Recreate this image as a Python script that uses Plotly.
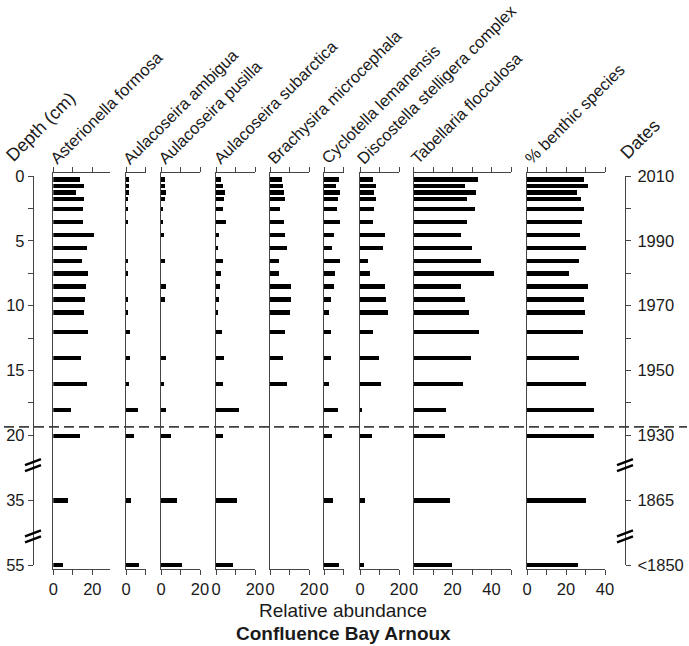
import numpy as np
import plotly.graph_objects as go

W, H = 689, 646
FONT = "Liberation Sans, Arial, sans-serif"
INK = "#1a1a1a"
AXIS = "#444444"

# sample depths (cm); axis is broken between 20-35 and 35-55
DEPTH_CM = [0.25, 0.75, 1.25, 1.75, 2.5, 3.5, 4.5, 5.5, 6.5, 7.5,
            8.5, 9.5, 10.5, 12, 14, 16, 18, 20, 35, 55]
DEPTH_TICKS = [0, 5, 10, 15, 20, 35, 55]
DATE_LABELS = ["2010", "1990", "1970", "1950", "1930", "1865", "<1850"]
MINOR_DEPTHS = [2.5, 7.5, 12.5, 17.5]
BOUNDARY_CM = 19.35

SPECIES = ["Asterionella formosa", "Aulacoseira ambigua", "Aulacoseira pusilla",
           "Aulacoseira subarctica", "Brachysira microcephala", "Cyclotella lemanensis",
           "Discostella stelligera complex", "Tabellaria flocculosa", "% benthic species"]

asterionella = [13.7, 15.7, 11.6, 15.7, 15.4, 15.4, 20.9, 17.6, 14.9, 18.1,
                17.1, 16.6, 15.9, 18.1, 14.4, 17.6, 9.1, 13.7, 7.5, 5.3]
ambigua = [1.4, 1.5, 1.5, 0.9, 1.2, 1.2, 0, 0, 0.8, 1.2,
           0, 0.7, 0.7, 2.1, 2.1, 1.4, 6.0, 4.1, 2.4, 6.7]
pusilla = [1.9, 1.9, 2.4, 1.9, 1.2, 1.2, 1.4, 0, 1.9, 0,
           2.6, 1.9, 0, 0, 2.6, 1.4, 2.4, 5.3, 8.4, 10.6]
subarctica = [2.4, 3.4, 4.4, 4.1, 3.4, 5.0, 1.7, 1.2, 3.4, 2.4,
              1.9, 1.4, 1.2, 2.9, 4.1, 3.4, 11.7, 3.4, 10.8, 8.6]
brachysira = [6.3, 6.8, 7.4, 7.9, 5.1, 7.4, 7.9, 8.9, 4.6, 4.6,
              10.9, 10.9, 10.4, 7.9, 6.8, 8.9, 0, 0, 0, 0]
cyclotella = [7.5, 6.0, 8.0, 7.0, 6.5, 8.0, 5.0, 4.3, 8.0, 5.5,
              5.0, 3.4, 2.4, 3.4, 3.4, 2.4, 7.4, 3.9, 4.4, 7.7]
discostella = [6.7, 8.4, 7.4, 8.4, 7.0, 6.5, 12.8, 11.6, 3.9, 5.3,
               12.8, 13.3, 14.4, 6.5, 9.7, 10.6, 1.0, 6.3, 2.6, 1.9]
tabellaria = [32.6, 26.3, 31.6, 27.0, 31.3, 27.0, 24.3, 29.6, 34.4, 41.2,
              24.3, 26.3, 28.4, 33.5, 29.1, 25.3, 16.2, 15.7, 18.5, 19.6]
benthic = [29.2, 31.3, 25.5, 27.7, 29.1, 28.2, 27.2, 30.3, 26.8, 21.4,
           31.3, 29.2, 29.7, 28.7, 26.7, 30.3, 34.2, 34.2, 30.3, 26.0]

VALUES = [asterionella, ambigua, pusilla, subarctica, brachysira,
          cyclotella, discostella, tabellaria, benthic]
AXIS_MAX = [29, 10, 20, 20, 20, 10, 20, 50, 40]

# layout in pixels
PANEL_ZERO_PX = [53.3, 126, 161, 216, 270, 324, 360, 413.5, 527]
PX_PER_UNIT = 1.95
TOP_PX, BOT_PX = 172.7, 569.3      # panel frame
D0_PX, DEND_PX = 176, 565          # depth 0 and depth 55
DEPTH_AXIS_PX, DATE_AXIS_PX = 33, 625
BREAKS = [22.3, 27.8]              # in squashed units


def squash(d):
    # broken depth axis: 0-20 linear, 20->35 and 35->55 compressed
    return np.interp(d, [0, 20, 35, 55], [0, 20, 25, 30])


def fx(px):
    return px / W


def fy(py):
    return 1 - py / H


units_per_px = 30 / (DEND_PX - D0_PX)
y_range = [(BOT_PX - D0_PX) * units_per_px, (TOP_PX - D0_PX) * units_per_px]
ydisp = [float(v) for v in squash(DEPTH_CM)]

fig = go.Figure()
layout = {}
for i, (vals, amax, z) in enumerate(zip(VALUES, AXIS_MAX, PANEL_ZERO_PX), start=1):
    fig.add_trace(go.Bar(x=vals, y=ydisp, orientation="h", width=0.32,
                         marker=dict(color="black", line=dict(width=0)),
                         xaxis=f"x{i}", yaxis=f"y{i}", showlegend=False))
    ticks = list(range(0, amax + 1, 10))
    layout[f"xaxis{i}"] = dict(
        domain=[fx(z), fx(z + amax * PX_PER_UNIT)], range=[0, amax], anchor=f"y{i}",
        tickvals=ticks, ticktext=[str(t) if t % 20 == 0 else "" for t in ticks],
        ticks="outside", ticklen=5, tickwidth=1.2, tickcolor=AXIS,
        showline=True, linecolor=AXIS, linewidth=1.3, mirror="ticks",
        showgrid=False, zeroline=False, automargin=False,
        tickfont=dict(size=16.5, color=INK))
    layout[f"yaxis{i}"] = dict(
        domain=[fy(BOT_PX), fy(TOP_PX)], range=y_range, anchor=f"x{i}",
        showline=True, linecolor=AXIS, linewidth=1.3, showticklabels=False,
        ticks="", showgrid=False, zeroline=False, automargin=False)

# depth and date axes on a hidden helper x axis
tick_pos = [float(v) for v in squash(DEPTH_TICKS + MINOR_DEPTHS)]
for yname, side, px, labels, standoff in [
        ("y10", "left", DEPTH_AXIS_PX, [str(d) for d in DEPTH_TICKS], 0),
        ("y11", "right", DATE_AXIS_PX, DATE_LABELS, 3)]:
    fig.add_trace(go.Scatter(x=[0], y=[0], mode="markers", marker=dict(opacity=0),
                             xaxis="x10", yaxis=yname, showlegend=False, hoverinfo="skip"))
    layout["yaxis" + yname[1:]] = dict(
        domain=[fy(DEND_PX), fy(D0_PX)], range=[30, 0], anchor="free", position=fx(px),
        side=side, tickvals=tick_pos, ticktext=labels + [""] * len(MINOR_DEPTHS),
        ticks="outside", ticklen=5, tickwidth=1.2, tickcolor=AXIS,
        showline=True, linecolor=AXIS, linewidth=1.3, automargin=False,
        ticklabelstandoff=standoff,
        showgrid=False, zeroline=False, tickfont=dict(size=16.5, color=INK))
layout["xaxis10"] = dict(domain=[0, 1], anchor="y10", visible=False, automargin=False)

shapes = [dict(type="line", xref="paper", yref="y10", x0=fx(4), x1=fx(687),
               y0=float(squash(BOUNDARY_CM)), y1=float(squash(BOUNDARY_CM)),
               line=dict(color="#404040", width=1.6, dash="10px,5px"))]
# axis break marks "//"
for px in (DEPTH_AXIS_PX, DATE_AXIS_PX):
    for b in BREAKS:
        cy = D0_PX + b / units_per_px
        for off in (-3, 3):
            shapes.append(dict(type="line", xref="paper", yref="paper",
                               x0=fx(px - 8), y0=fy(cy + off + 3),
                               x1=fx(px + 8), y1=fy(cy + off - 3),
                               line=dict(color="black", width=2.4)))

annotations = []
for name, z in zip(SPECIES, PANEL_ZERO_PX):
    annotations.append(dict(text=name, x=fx(z - 9), y=fy(170), xref="paper", yref="paper",
                            xanchor="left", yanchor="bottom", textangle=-45, showarrow=False,
                            font=dict(size=16.5, color=INK)))
annotations += [
    dict(text="Depth (cm)", x=fx(-1), y=fy(168), xref="paper", yref="paper",
         xanchor="left", yanchor="bottom", textangle=-45, showarrow=False,
         font=dict(size=18, color=INK)),
    dict(text="Dates", x=fx(614), y=fy(166), xref="paper", yref="paper",
         xanchor="left", yanchor="bottom", textangle=-45, showarrow=False,
         font=dict(size=18, color=INK)),
    dict(text="Relative abundance", x=fx(343), y=fy(610), xref="paper", yref="paper",
         xanchor="center", yanchor="middle", showarrow=False,
         font=dict(size=19, color=INK)),
    dict(text="<b>Confluence Bay Arnoux</b>", x=fx(343), y=fy(633), xref="paper", yref="paper",
         xanchor="center", yanchor="middle", showarrow=False,
         font=dict(size=19, color=INK)),
]

fig.update_layout(**layout)
fig.update_layout(width=W, height=H, margin=dict(l=0, r=0, t=0, b=0, pad=0),
                  paper_bgcolor="white", plot_bgcolor="rgba(0,0,0,0)",
                  font=dict(family=FONT, color=INK), bargap=0,
                  shapes=shapes, annotations=annotations)

# drop the page's default 8px body margin so the figure sits at the window origin
fig.write_html("out.html", config={"displayModeBar": False},
               post_script="document.body.style.margin = '0px';")
